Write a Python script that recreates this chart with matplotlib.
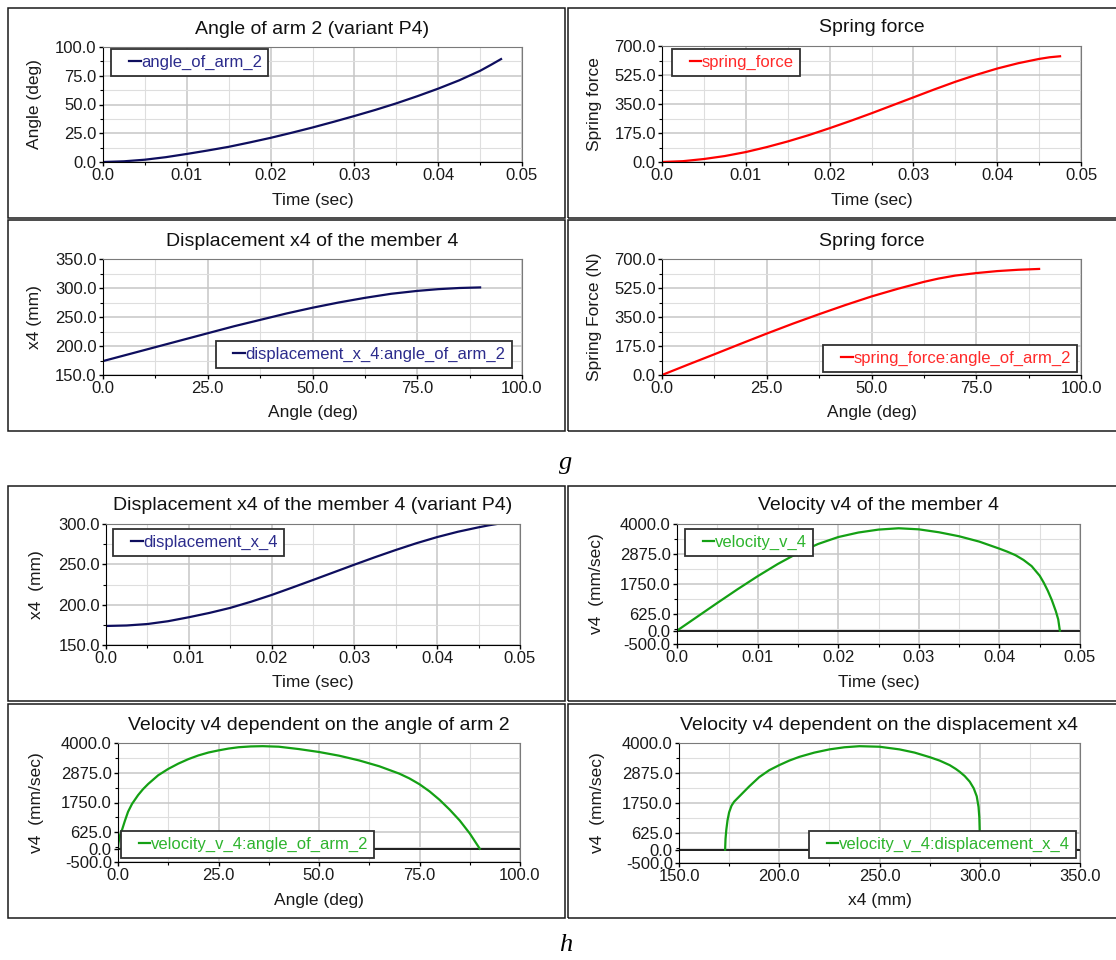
"""
Mechanism simulation results (variant P4): panels g and h
arm angle, spring force, displacement x4 and velocity v4
"""

import numpy as np
import matplotlib.pyplot as plt
from matplotlib.patches import Rectangle
from matplotlib.lines import Line2D
from matplotlib.legend_handler import HandlerLine2D

plt.rcParams['font.family'] = ['Liberation Sans', 'DejaVu Sans']
plt.rcParams['font.size'] = 12

# ==================== data ====================

# time base for the first group
time_s = [0, 0.0025, 0.005, 0.0075, 0.01, 0.0125, 0.015, 0.0175, 0.02, 0.0225,
          0.025, 0.0275, 0.03, 0.0325, 0.035, 0.0375, 0.04, 0.0425, 0.045, 0.04625, 0.0475]
angle_of_arm_2 = [0, 0.6, 2.0, 4.2, 7.0, 10.0, 13.2, 17.0, 21.0, 25.4,
                  30.0, 34.9, 40.0, 45.3, 51.0, 57.2, 63.8, 71.0, 79.3, 84.3, 89.5]
spring_force = [0, 5, 18, 36, 60, 90, 124, 162, 204, 248,
                294, 342, 390, 438, 484, 526, 564, 596, 622, 632, 638]
displacement_x_4 = [173.6, 174.2, 176.0, 179.5, 184.4, 189.8, 196.0, 203.6, 212.0, 221.2,
                    230.6, 240.1, 249.6, 258.9, 267.8, 276.2, 283.8, 290.4, 295.9, 298.4, 300.5]

# x4 against the arm angle
angle_x = [0, 6.25, 12.5, 18.75, 25, 31.25, 37.5, 43.75, 50, 56.25,
           62.5, 68.75, 75, 80, 85, 90]
x4_by_angle = [174, 186, 198, 210, 222, 234, 245, 256, 266, 275,
               283, 290, 295, 298, 300, 301]

# spring force against the arm angle
angle_f = [0, 6.25, 12.5, 18.75, 25, 31.25, 37.5, 43.75, 50, 56.25,
           62.5, 66, 70, 75, 80, 85, 90]
force_by_angle = [0, 63, 125, 188, 250, 310, 367, 422, 474, 520,
                  562, 582, 600, 615, 627, 635, 640]

# velocity v4 against time
time_v = [0, 0.0025, 0.005, 0.0075, 0.01, 0.0125, 0.015, 0.0175, 0.02, 0.0225, 0.025,
          0.0275, 0.03, 0.0325, 0.035, 0.0375, 0.04, 0.041, 0.042, 0.043, 0.044,
          0.045, 0.0455, 0.046, 0.0465, 0.047, 0.0473, 0.0475]
velocity_v_4 = [0, 520, 1040, 1550, 2040, 2500, 2910, 3250, 3510, 3680, 3790,
                3840, 3800, 3690, 3540, 3340, 3075, 2960, 2830, 2650, 2420,
                2060, 1800, 1500, 1150, 730, 420, 0]

# velocity v4 against the arm angle
angle_v = [0, 0.1, 0.3, 0.6, 1, 1.7, 2.5, 3.5, 5, 6.2, 7.5, 10, 12.5, 15, 17.5, 20,
           22.5, 25, 27.5, 30, 33, 36, 40, 45, 50, 55, 60, 65, 70, 72.5, 75,
           77.5, 80, 82.5, 85, 87.5, 90]
v_by_angle = [0, 200, 380, 560, 715, 1050, 1400, 1700, 2030, 2250, 2450, 2780, 3020, 3220,
              3390, 3530, 3640, 3720, 3790, 3840, 3870, 3880, 3860, 3770, 3660, 3520, 3340,
              3120, 2840, 2660, 2440, 2170, 1850, 1480, 1070, 580, 0]

# velocity v4 against displacement x4
x4_v = [173, 173.2, 173.6, 174.2, 175, 176.2, 177.5, 180, 185, 190, 195, 200, 205, 210,
        217.5, 225, 232.5, 240, 250, 260, 267.5, 275, 280, 285, 288, 290, 292.5,
        295, 297, 298.5, 299.4, 299.8, 300]
v_by_x4 = [0, 400, 750, 1100, 1400, 1650, 1800, 1990, 2370, 2720, 2980, 3170, 3340, 3480,
           3640, 3760, 3840, 3880, 3860, 3760, 3640, 3470, 3340, 3170, 3030, 2920, 2760,
           2550, 2300, 2000, 1600, 1200, 650]

# tick sets
time_ticks = [0, 0.01, 0.02, 0.03, 0.04, 0.05]
time_labels = ['0.0', '0.01', '0.02', '0.03', '0.04', '0.05']
time_minor = [0.005, 0.015, 0.025, 0.035, 0.045]
v_ticks = [-500, 0, 625, 1750, 2875, 4000]
v_minor = [62.5, 1187.5, 2312.5, 3437.5]

NAVY, NAVY_TXT = '#0e0e5e', '#2c2c8c'
RED, RED_TXT = '#ff0000', '#ff2a2a'
GREEN, GREEN_TXT = '#14a014', '#2eb42e'

# ==================== layout ====================

W, H = 1116, 960
fig = plt.figure(figsize=(W / 100, H / 100), dpi=100)


class ShortHandle(HandlerLine2D):
    # the original tool draws only a short dash right before the label
    def create_artists(self, *args, **kwargs):
        arts = super().create_artists(*args, **kwargs)
        xd, yd = arts[0].get_xdata(), arts[0].get_ydata()
        arts[0].set_data([xd[0] + 0.5 * (xd[-1] - xd[0]), xd[-1]], [yd[0], yd[0]])
        return arts


def panel(px, title, xlabel, ylabel, ylab_x, xlim, ylim, xt, xt_minor, yt, yt_minor,
          xt_labels=None):
    l, tp, r, b = px
    w, h = r - l, b - tp
    ax = fig.add_axes([l / W, 1 - b / H, w / W, h / H])
    ax.set_xlim(*xlim)
    ax.set_ylim(*ylim)
    ax.set_xticks(xt)
    ax.set_xticks(xt_minor, minor=True)
    ax.set_yticks(yt)
    ax.set_yticks(yt_minor, minor=True)
    if xt_labels is None:
        xt_labels = [f'{v:.1f}' for v in xt]
    ax.set_xticklabels(xt_labels)
    ax.set_yticklabels([f'{v:.1f}' for v in yt])
    ax.tick_params(which='major', direction='out', length=3, width=1, pad=1.5,
                   labelsize=12, labelcolor='#1a1a1a')
    ax.tick_params(which='minor', direction='out', length=2, width=0.8)
    ax.grid(True, which='major', color='#c6c6c6', linewidth=1.1)
    ax.grid(True, which='minor', color='#dedede', linewidth=0.8)
    ax.set_axisbelow(True)
    for s in ['left', 'bottom']:
        ax.spines[s].set_color('black')
    for s in ['top', 'right']:
        ax.spines[s].set_color('#7a7a7a')
    ax.set_title(title, fontsize=14, y=1 + 18 / h, pad=0, va='center', color='#111111')
    ax.set_xlabel(xlabel, fontsize=12.5, va='center', color='#1a1a1a')
    ax.xaxis.set_label_coords(0.5, -38 / h)
    ax.set_ylabel(ylabel, fontsize=12.5, va='center', color='#1a1a1a')
    ax.yaxis.set_label_coords((ylab_x - l) / w, 0.5)
    return ax


def add_legend(ax, loc, anchor, txt_color):
    leg = ax.legend(loc=loc, bbox_to_anchor=anchor, borderaxespad=0, fancybox=False,
                    framealpha=1, edgecolor='#303030', fontsize=12, labelcolor=txt_color,
                    handlelength=1.4, handletextpad=0.05, borderpad=0.35, numpoints=2,
                    handler_map={Line2D: ShortHandle(marker_pad=0)})
    leg.get_frame().set_linewidth(1.3)


# panel frames (double lines between neighbours)
frames = [(8, 8, 565, 218), (568, 8, 1120, 218), (8, 220, 565, 431), (568, 220, 1120, 431),
          (8, 486, 565, 701), (568, 486, 1120, 701), (8, 704, 565, 918), (568, 704, 1120, 918)]
for l, tp, r, b in frames:
    fig.patches.append(Rectangle((l / W, 1 - b / H), (r - l) / W, (b - tp) / H,
                                 transform=fig.transFigure, fill=False,
                                 edgecolor='#1a1a1a', linewidth=1.1))

angle_ticks = [0, 25, 50, 75, 100]
angle_minor = [12.5, 37.5, 62.5, 87.5]
force_ticks = [0, 175, 350, 525, 700]
force_minor = [87.5, 262.5, 437.5, 612.5]

# ---- g: top left ----
ax = panel((103, 47, 522, 162), 'Angle of arm 2 (variant P4)', 'Time (sec)', 'Angle (deg)', 35,
           (0, 0.05), (0, 100), time_ticks, time_minor, angle_ticks, angle_minor, time_labels)
ax.plot(time_s, angle_of_arm_2, color=NAVY, lw=1.6, label='angle_of_arm_2')
add_legend(ax, 'upper left', (0.02, 0.985), NAVY_TXT)

# ---- g: top right ----
ax = panel((662, 46, 1081, 162), 'Spring force', 'Time (sec)', 'Spring force', 595,
           (0, 0.05), (0, 700), time_ticks, time_minor, force_ticks, force_minor, time_labels)
ax.plot(time_s, spring_force, color=RED, lw=1.6, label='spring_force')
add_legend(ax, 'upper left', (0.024, 0.975), RED_TXT)

# ---- g: bottom left ----
ax = panel((103, 259, 522, 375), 'Displacement x4 of the member 4', 'Angle (deg)', 'x4 (mm)', 35,
           (0, 100), (150, 350), angle_ticks, angle_minor,
           [150, 200, 250, 300, 350], [175, 225, 275, 325])
ax.plot(angle_x, x4_by_angle, color=NAVY, lw=1.6, label='displacement_x_4:angle_of_arm_2')
add_legend(ax, 'lower right', (0.975, 0.06), NAVY_TXT)

# ---- g: bottom right ----
ax = panel((662, 259, 1081, 375), 'Spring force', 'Angle (deg)', 'Spring Force (N)', 595,
           (0, 100), (0, 700), angle_ticks, angle_minor, force_ticks, force_minor)
ax.plot(angle_f, force_by_angle, color=RED, lw=1.6, label='spring_force:angle_of_arm_2')
add_legend(ax, 'lower right', (0.99, 0.03), RED_TXT)

# ---- h: top left ----
ax = panel((106, 524, 520, 645), 'Displacement x4 of the member 4 (variant P4)', 'Time (sec)',
           'x4  (mm)', 37, (0, 0.05), (150, 300), time_ticks, time_minor,
           [150, 200, 250, 300], [175, 225, 275], time_labels)
ax.plot(time_s, displacement_x_4, color=NAVY, lw=1.6, label='displacement_x_4')
add_legend(ax, 'upper left', (0.018, 0.96), NAVY_TXT)

# ---- h: top right ----
ax = panel((677, 524, 1080, 644), 'Velocity v4 of the member 4', 'Time (sec)', 'v4  (mm/sec)', 597,
           (0, 0.05), (-500, 4000), time_ticks, time_minor, v_ticks, v_minor, time_labels)
ax.axhline(0, color='black', lw=1.2)
ax.plot(time_v, velocity_v_4, color=GREEN, lw=1.6, label='velocity_v_4')
add_legend(ax, 'upper left', (0.02, 0.958), GREEN_TXT)

# ---- h: bottom left ----
ax = panel((118, 743, 520, 862), 'Velocity v4 dependent on the angle of arm 2', 'Angle (deg)',
           'v4  (mm/sec)', 37, (0, 100), (-500, 4000), angle_ticks, angle_minor, v_ticks, v_minor)
ax.axhline(0, color='black', lw=1.2)
ax.plot(angle_v, v_by_angle, color=GREEN, lw=1.6, label='velocity_v_4:angle_of_arm_2')
add_legend(ax, 'lower left', (0.0075, 0.034), GREEN_TXT)

# ---- h: bottom right ----
ax = panel((679, 743, 1080, 863), 'Velocity v4 dependent on the displacement x4', 'x4 (mm)',
           'v4  (mm/sec)', 597, (150, 350), (-500, 4000),
           [150, 200, 250, 300, 350], [175, 225, 275, 325], v_ticks, v_minor)
ax.axhline(0, color='black', lw=1.2)
ax.plot(x4_v, v_by_x4, color=GREEN, lw=1.6, label='velocity_v_4:displacement_x_4')
add_legend(ax, 'lower right', (0.99, 0.04), GREEN_TXT)

# group captions
fig.text(566 / W, 1 - 463 / H, 'g', family='Liberation Serif', style='italic',
         fontsize=19, ha='center', va='center')
fig.text(566 / W, 1 - 945 / H, 'h', family='Liberation Serif', style='italic',
         fontsize=19, ha='center', va='center')

fig.savefig('out.png', dpi=100)
print('saved out.png')
